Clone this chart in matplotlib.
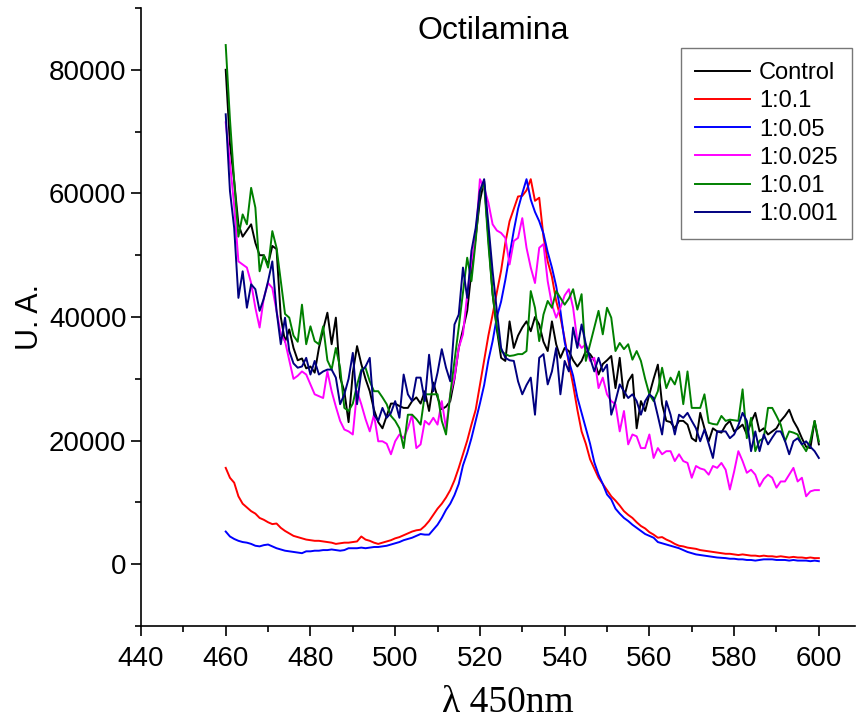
import numpy as np
import matplotlib
matplotlib.use("Agg")
import matplotlib.pyplot as plt
from matplotlib.ticker import MultipleLocator

wavelength = np.arange(460, 601)

control = [
    80, 68, 62, 55, 53, 54, 55, 52, 50, 50, 48.5, 51.5, 51, 40, 36, 38, 35, 33, 33.3, 31.7,
    32, 31, 35, 38, 40.7, 35.6, 39.9, 30.2, 28, 23, 31, 35.3, 32.4, 30, 28, 25, 23, 22, 24, 26,
    26, 25.6, 25.3, 25.3, 26.4, 27, 26, 28, 24.8, 29.4, 27, 25.1, 25.5, 26.4, 30, 35, 38, 41, 47.4, 53,
    58.8, 62, 52.8, 43.7, 38, 33.4, 32.9, 39.3, 35, 37, 38.3, 39.3, 37.7, 40, 38.8, 36, 34.5, 39.3, 35.6, 33.4,
    35, 34.5, 33, 32, 32.9, 34.5, 34, 33, 30.7, 32.4, 33, 33.7, 28.5, 33.4, 26.9, 29.6, 30.7, 22, 26.4, 24.8,
    27.5, 30, 32.3, 25.9, 23.2, 23, 22, 23.2, 23.2, 22.6, 20.4, 19.9, 24.5, 22, 19.9, 22, 21.5, 21.3, 22.5, 23.2,
    21.5, 22, 22.6, 21, 23, 24.5, 21.5, 22, 21, 21.5, 22, 23.2, 24, 25, 23.2, 22, 20.4, 19, 18.8, 23.2,
    19.4]

r_0_1 = [
    15.6, 14, 13.2, 11, 9.8, 9.2, 8.6, 8.2, 7.5, 7.2, 6.8, 6.5, 6.6, 5.9, 5.4, 5, 4.6, 4.4, 4.2, 4,
    3.9, 3.8, 3.8, 3.7, 3.6, 3.5, 3.3, 3.4, 3.5, 3.5, 3.6, 3.7, 4.5, 4, 3.8, 3.5, 3.3, 3.5, 3.7, 3.9,
    4.2, 4.4, 4.7, 5, 5.3, 5.5, 5.6, 6.2, 7, 8, 9, 9.8, 10.8, 12, 13.6, 15.6, 17.8, 20, 22.6, 25,
    29, 33, 37, 40.4, 44, 47.5, 52, 55.5, 57.5, 59.5, 59.6, 60.5, 62.3, 58.8, 59.3, 53, 49, 46.5, 42.6, 40,
    36.5, 32.5, 29, 25, 21.5, 19.5, 17, 15.5, 14, 13, 12, 11, 10.3, 9.5, 8.6, 8, 7.5, 6.8, 6.2, 5.8,
    5.2, 4.8, 4.3, 4.4, 4, 3.7, 3.3, 3, 2.9, 2.7, 2.6, 2.5, 2.3, 2.2, 2.1, 2, 1.9, 1.8, 1.7, 1.7,
    1.6, 1.5, 1.6, 1.5, 1.4, 1.4, 1.3, 1.4, 1.3, 1.3, 1.2, 1.3, 1.2, 1.1, 1.2, 1.1, 1.1, 1.0, 1.1, 1.0,
    1.0]

r_0_05 = [
    5.3, 4.5, 4.1, 3.8, 3.6, 3.5, 3.3, 3.0, 2.9, 3.1, 3.2, 2.9, 2.6, 2.4, 2.2, 2.1, 2.0, 1.9, 1.8, 2.1,
    2.1, 2.2, 2.2, 2.3, 2.3, 2.4, 2.3, 2.2, 2.3, 2.6, 2.6, 2.6, 2.7, 2.6, 2.7, 2.8, 2.8, 2.9, 3.0, 3.2,
    3.4, 3.6, 3.9, 4.1, 4.3, 4.6, 4.9, 4.8, 4.8, 5.6, 6.4, 7.5, 8.8, 9.8, 11.2, 13, 16, 18, 20.4, 23.2,
    26, 29, 33, 36.1, 40, 42.5, 46, 50, 54, 57.5, 60, 62.3, 59, 57, 55.5, 53.5, 50.5, 48, 45, 41,
    36, 32.9, 30.5, 27, 24.5, 22, 19.5, 16.5, 14.5, 13, 11.3, 10.5, 9, 8.2, 7.5, 7, 6.4, 5.9, 5.4, 4.9,
    4.6, 4.3, 3.6, 3.4, 3.2, 3, 2.8, 2.6, 2.3, 2, 1.8, 1.6, 1.5, 1.4, 1.3, 1.2, 1.1, 1.05, 1.0, 0.9,
    0.9, 0.8, 0.8, 0.7, 0.7, 0.6, 0.7, 0.8, 0.8, 0.8, 0.7, 0.7, 0.7, 0.6, 0.7, 0.6, 0.6, 0.6, 0.5, 0.6,
    0.5]

r_0_025 = [
    71.5, 65, 58, 49, 48.5, 48, 45.5, 41.5, 38.3, 43.1, 45.5, 44.7, 41, 37.2, 36.1, 33, 30, 30.5, 31.2, 30.7,
    29.1, 27.5, 27.2, 26.9, 31.2, 28, 25.5, 23.2, 21.8, 21.5, 21, 28, 25.9, 23.5, 21.5, 24.2, 19.9, 19.9, 19.5, 17.8,
    19.9, 21, 20.4, 22, 24.2, 18.8, 19.4, 23.2, 22.6, 23.7, 22.6, 26.4, 22, 27.5, 30.2, 35, 37.2, 43.7, 49, 52.8,
    62.3, 60.9, 58.5, 55, 54, 53.6, 52.8, 48.5, 52.3, 52.8, 56, 51.2, 48, 45.5, 51.2, 51.8, 45.8, 42, 39.9, 41.5,
    43.5, 44.5, 41.5, 36.1, 35, 35.6, 32.9, 33.4, 28.5, 30.2, 27.5, 26.4, 25.9, 21.5, 24.8, 19.4, 21, 20.7, 18.8, 18.8,
    21, 17.2, 18.8, 17.8, 18.3, 18.3, 16.7, 17.8, 16.7, 16.4, 14, 15.9, 15.5, 15.3, 14.5, 15.9, 15.6, 16.4, 15.3, 12.1,
    15, 18.3, 16.7, 14.8, 15.3, 14.5, 12.6, 13.8, 14.5, 14, 12.4, 13.4, 13.4, 14.5, 15.6, 13.4, 14, 11, 11.8, 12,
    12]

r_0_01 = [
    84, 72, 62, 53, 56.6, 55, 60.9, 57.7, 47.4, 50, 48, 53.9, 51.2, 45.8, 40.5, 39.9, 37, 36, 42, 35.6,
    38.5, 36.1, 35.6, 38.5, 33, 31.5, 35, 31.8, 25.3, 24.8, 26, 29, 31.5, 31.8, 29.6, 28, 28, 27, 25.9, 24,
    23.2, 22, 18.8, 24.2, 24.2, 23.5, 22.6, 27.5, 27.5, 27.5, 27.5, 23.2, 21, 27.5, 32.9, 38.3, 44, 49.6, 45.8, 52.3,
    60.4, 61.5, 51.8, 43.7, 38.3, 34.5, 34, 33.7, 33.8, 34, 34, 34.5, 44.2, 41.5, 36.1, 40.4, 42.6, 41.5, 44.2, 43.1,
    42, 43, 44.5, 41.2, 43.7, 32.9, 35.6, 38.3, 41, 37.2, 41.5, 39.9, 34.5, 35.8, 34.8, 35.6, 33.1, 34.5, 32.9, 30,
    27.5, 26.4, 28, 31.8, 28.5, 30.2, 29.1, 31.2, 25.9, 31.2, 25.3, 25.3, 25.3, 27.5, 22.9, 22.7, 22.6, 24, 23.2, 23.4,
    23.3, 23.2, 28.3, 20.4, 23.7, 18.3, 20, 20.4, 25.3, 25.3, 24, 22.6, 19.9, 21.5, 21.3, 21, 19.4, 18.3, 20, 23.2,
    19.9]

r_0_001 = [
    72.8, 60.4, 54.4, 43.1, 47.4, 41.5, 45.3, 44.5, 41, 43, 45.8, 49, 41, 35.6, 39.9, 34.5, 32.5, 31.8, 32, 33.4,
    30.7, 32.9, 30.7, 31.2, 31.5, 31.5, 30.2, 25.9, 27.5, 30, 34.2, 25.9, 31.2, 32, 33.4, 24.2, 23.2, 25.3, 23.7, 24.5,
    26.4, 23.7, 30.7, 27.5, 26.4, 30.2, 30.2, 26.4, 33.9, 28, 31, 34.8, 31.8, 29.6, 38.8, 40.4, 48, 43.1, 50.7, 54.4,
    60.4, 62.3, 55, 47.4, 41, 35, 33.4, 33, 32.9, 29.6, 27.5, 29, 30.2, 24.2, 33.4, 34, 29.1, 31.2, 35, 27.5,
    32.9, 31.2, 38.3, 35, 38.8, 35.6, 33.4, 31.2, 33.4, 31.2, 32.3, 24.2, 26.4, 29.1, 28, 26.9, 27.5, 26.4, 24.2, 26.4,
    27.5, 26.9, 24, 21, 26.4, 24.2, 21, 24.2, 23.7, 24.5, 23.2, 22, 19.9, 21.8, 19.5, 17.2, 21.5, 21.5, 21.5, 20.4,
    21, 22.5, 24.5, 23.2, 18.3, 21.5, 18.3, 21, 19.4, 20.5, 21.5, 21.5, 20, 17.8, 19.9, 20.4, 19.4, 19.9, 19, 18.3,
    17.2]

labels = ["Control", "1:0.1", "1:0.05", "1:0.025", "1:0.01", "1:0.001"]
colors = ["#000000", "#ff0000", "#0000ff", "#ff00ff", "#008000", "#000080"]
series = [control, r_0_1, r_0_05, r_0_025, r_0_01, r_0_001]

plt.rcParams["font.family"] = ["Liberation Sans", "DejaVu Sans"]

fig = plt.figure(figsize=(8.57, 7.23), dpi=100)
ax = fig.add_axes([0.1645, 0.134, 0.833, 0.855])

for vals, lab, col in zip(series, labels, colors):
    ax.plot(wavelength, np.array(vals) * 1000, color=col, lw=1.4, label=lab)

ax.set_xlim(440, 608.5)
ax.set_ylim(-10000, 90000)
ax.xaxis.set_major_locator(MultipleLocator(20))
ax.xaxis.set_minor_locator(MultipleLocator(10))
ax.yaxis.set_minor_locator(MultipleLocator(10000))
ax.set_yticks([0, 20000, 40000, 60000, 80000])
ax.tick_params(which="major", direction="out", length=7, width=1.2, labelsize=20)
ax.tick_params(which="minor", direction="out", length=4, width=1.2)
ax.tick_params(axis="x", pad=7)

for s in ["top", "right"]:
    ax.spines[s].set_visible(False)
for s in ["left", "bottom"]:
    ax.spines[s].set_linewidth(1.2)

ax.text(0.493, 0.962, "Octilamina", transform=ax.transAxes, ha="center", va="center", fontsize=23)
ax.set_ylabel("U. A.", fontsize=22, labelpad=3)
ax.set_xlabel("λ 450nm", fontsize=27, family=["Liberation Serif", "DejaVu Serif"], labelpad=10, x=0.514)

leg = ax.legend(loc="upper right", bbox_to_anchor=(0.996, 0.935), fontsize=17,
                frameon=True, fancybox=False, edgecolor="#555555",
                handlelength=2.3, handletextpad=0.4, borderpad=0.6, labelspacing=0.26,
                borderaxespad=0.0)
leg.get_frame().set_linewidth(1.0)

fig.savefig("out.png", dpi=100)
